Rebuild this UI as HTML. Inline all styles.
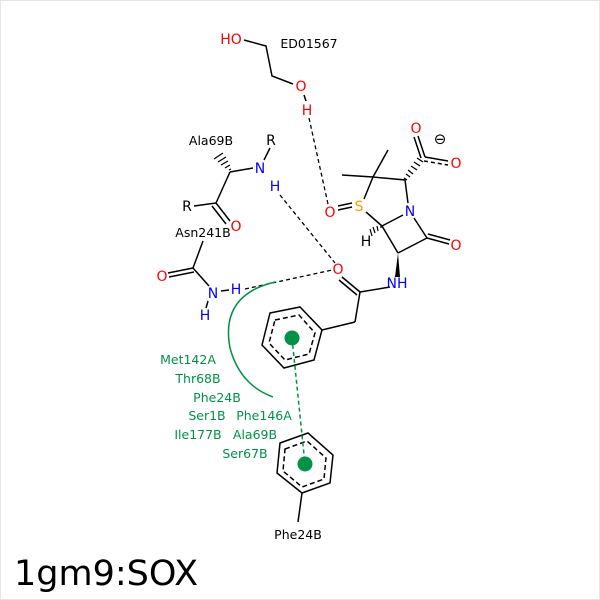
<!DOCTYPE html>
<html><head><style>body{margin:0;background:#fff}svg{display:block}</style></head><body>
<svg width="600" height="600" viewBox="0 0 600 600" xmlns="http://www.w3.org/2000/svg" font-family="'DejaVu Sans','Liberation Sans',sans-serif">
<rect x="0.5" y="0.5" width="599" height="599" fill="#fff" stroke="#e6e6e6"/>
<g stroke="#000" stroke-width="1.5" fill="none">
<polyline points="244,40 266,46 272,76 293,84"/>
<line x1="304" y1="95" x2="306" y2="101"/>
<line x1="352" y1="207" x2="338" y2="210"/><line x1="352" y1="203" x2="338" y2="206"/>
<polyline points="364,199 373,177 405,180 408,203"/>
<line x1="366" y1="212" x2="382" y2="226"/>
<line x1="382" y1="226" x2="403" y2="215"/>
<line x1="414" y1="218" x2="427" y2="238"/>
<line x1="427" y1="238" x2="398" y2="253"/>
<line x1="398" y1="253" x2="382" y2="226"/>
<line x1="427" y1="238" x2="449" y2="244"/><line x1="428" y1="234" x2="450" y2="240"/>
<line x1="373" y1="177" x2="388" y2="150"/><line x1="373" y1="177" x2="342" y2="175"/>
<line x1="425" y1="157" x2="418" y2="136"/><line x1="421" y1="158" x2="414" y2="137"/>
<line x1="425" y1="157" x2="448" y2="161"/>
<line x1="424" y1="161" x2="448" y2="165" stroke-dasharray="4,3"/>
<line x1="390" y1="287" x2="360" y2="292"/>
<line x1="360" y1="292" x2="342" y2="277"/><line x1="357" y1="295" x2="339" y2="280"/>
<line x1="360" y1="292" x2="355" y2="322"/><line x1="355" y1="322" x2="322" y2="330"/>
<polygon points="270,313 300,307 322,330 314,360 284,368 262,345"/>
<polygon points="275,320 299,315 315,333 309,354 285,360 269,343" stroke-dasharray="5,3"/>
<polygon points="280,443 308,433 333,455 330,483 302,493 277,473"/>
<polygon points="285,449 307,441 326,458 324,479 302,487 283,471" stroke-dasharray="5,3"/>
<line x1="302" y1="493" x2="298" y2="522"/>
<line x1="230" y1="172" x2="253" y2="168"/>
<line x1="264" y1="160" x2="270" y2="148"/>
<line x1="230" y1="172" x2="216" y2="203"/>
<line x1="216" y1="203" x2="194" y2="206"/>
<line x1="216" y1="203" x2="230" y2="221"/><line x1="212" y1="206" x2="226" y2="224"/>
<line x1="203" y1="241" x2="193" y2="268"/>
<line x1="193" y1="268" x2="168" y2="273"/><line x1="194" y1="272" x2="169" y2="277"/>
<line x1="193" y1="268" x2="209" y2="286"/>
<line x1="208" y1="301" x2="206" y2="308"/>
<line x1="221" y1="291" x2="229" y2="290"/>
</g>
<g stroke="#000" stroke-width="1.2">
<line x1="407" y1="180" x2="404" y2="178"/><line x1="410" y1="177" x2="406" y2="174"/><line x1="413" y1="174" x2="408" y2="170"/><line x1="417" y1="170" x2="411" y2="166"/><line x1="420" y1="166" x2="414" y2="162"/><line x1="423" y1="162" x2="417" y2="158"/>
<line x1="381" y1="228" x2="381" y2="225"/><line x1="378" y1="231" x2="377" y2="226"/><line x1="375" y1="233" x2="373" y2="227"/><line x1="372" y1="236" x2="370" y2="229"/>
<line x1="229" y1="170" x2="231" y2="169"/><line x1="225" y1="168" x2="230" y2="165"/><line x1="221" y1="165" x2="228" y2="161"/><line x1="218" y1="162" x2="226" y2="157"/><line x1="214" y1="159" x2="223" y2="153"/>
</g>
<polygon points="398,253 395,277 400,277" fill="#000"/>
<g stroke="#000" stroke-width="1.3" stroke-dasharray="4,3" fill="none">
<line x1="309" y1="118" x2="328" y2="204"/>
<line x1="280" y1="195" x2="335" y2="263"/>
<line x1="245" y1="289" x2="332" y2="270"/>
</g>
<path d="M275,282 Q220,295 230,348 Q240,385 273,397" stroke="#009345" stroke-width="1.5" fill="none"/>
<line x1="292" y1="338" x2="305" y2="464" stroke="#009345" stroke-width="1.5" stroke-dasharray="4,3"/>
<circle cx="292" cy="338" r="7.5" fill="#009345"/><circle cx="305" cy="464" r="7.5" fill="#009345"/>
<g font-size="14" text-anchor="middle" fill="#f00">
<text x="231" y="44">HO</text><text x="301" y="91">O</text><text x="307" y="115">H</text>
<text x="330" y="217">O</text><text x="416" y="133">O</text><text x="456" y="168">O</text>
<text x="456" y="250">O</text><text x="338" y="274">O</text><text x="236" y="231">O</text><text x="162" y="281">O</text>
</g>
<text x="359" y="211" font-size="14" text-anchor="middle" fill="#f5a000">S</text>
<g font-size="14" text-anchor="middle" fill="#00f">
<text x="410" y="216">N</text><text x="397" y="288">NH</text><text x="260" y="173">N</text><text x="275" y="191">H</text>
<text x="213" y="298">N</text><text x="236" y="294">H</text><text x="205" y="320">H</text>
</g>
<g font-size="14" text-anchor="middle" fill="#000">
<text x="366" y="246">H</text><text x="271" y="145">R</text><text x="187" y="211">R</text>
<text x="440" y="144" font-size="15">⊖</text>
</g>
<g font-size="12.5" text-anchor="middle" fill="#000">
<text x="309" y="48">ED01567</text><text x="211" y="145">Ala69B</text><text x="203" y="237">Asn241B</text><text x="298" y="539">Phe24B</text>
</g>
<g font-size="12.5" text-anchor="middle" fill="#009345">
<text x="188" y="364">Met142A</text><text x="198" y="383">Thr68B</text><text x="217" y="402">Phe24B</text>
<text x="207" y="420">Ser1B</text><text x="264" y="420">Phe146A</text>
<text x="198" y="439">Ile177B</text><text x="255" y="439">Ala69B</text><text x="245" y="458">Ser67B</text>
</g>
<text x="14" y="585" font-size="35" fill="#000">1gm9:SOX</text>
</svg>
</body></html>
